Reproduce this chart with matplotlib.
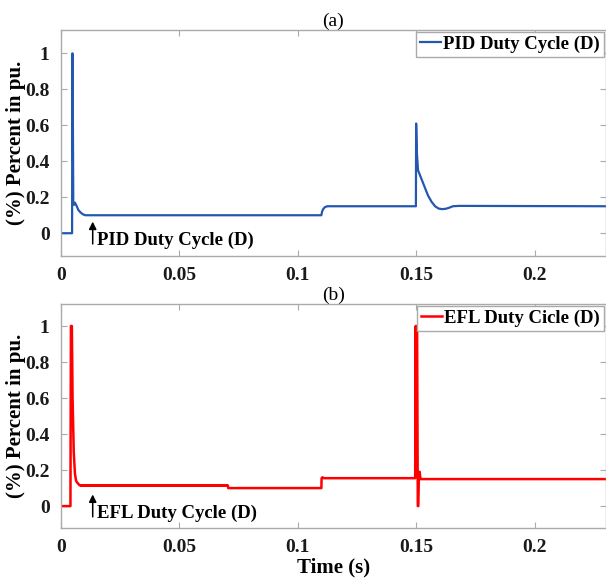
import numpy as np
import matplotlib.pyplot as plt

plt.rcParams['font.family'] = ['Liberation Serif', 'DejaVu Serif']
plt.rcParams['font.weight'] = 'bold'

# PID duty cycle (top panel)
pid_t = [0, 0.0048, 0.0049, 0.0050, 0.0053, 0.0056, 0.0060, 0.0066, 0.0074, 0.0084,
         0.0094, 0.0104, 0.0115, 0.1100, 0.1103, 0.1108, 0.1115, 0.1125, 0.1499, 0.1500,
         0.1503, 0.1508, 0.1520, 0.1535, 0.1550, 0.1565, 0.1580, 0.1595, 0.1610, 0.1625,
         0.1640, 0.1655, 0.1680, 0.23]
pid_d = [0, 0, 1.0, 1.0, 0.17, 0.158, 0.17, 0.155, 0.13, 0.115,
         0.105, 0.1, 0.1, 0.1, 0.12, 0.135, 0.145, 0.15, 0.15, 0.61,
         0.45, 0.35, 0.31, 0.26, 0.21, 0.175, 0.15, 0.137, 0.134, 0.136,
         0.142, 0.15, 0.152, 0.15]

# EFL duty cycle (bottom panel)
efl_t = [0, 0.0041, 0.0043, 0.0047, 0.0050, 0.0055, 0.0060, 0.0065, 0.0070, 0.0080,
         0.0705, 0.0707, 0.1100, 0.1101, 0.1105, 0.1110, 0.1496, 0.1498, 0.1500, 0.1502,
         0.1504, 0.1507, 0.1509, 0.1512, 0.1515, 0.1518, 0.1522, 0.23]
efl_d = [0, 0, 1.0, 1.0, 0.6, 0.3, 0.18, 0.14, 0.13, 0.115,
         0.115, 0.1, 0.1, 0.155, 0.16, 0.155, 0.155, 1.0, 0.2, 1.0,
         1.0, 0.0, 0.0, 0.19, 0.19, 0.15, 0.15, 0.15]
# chattering band of the EFL signal
band_t = [0.0080, 0.0705]
band_lo = [0.105, 0.105]
band_hi = [0.123, 0.123]

xticks = [0, 0.05, 0.1, 0.15, 0.2]
xlabels = ['0', '0.05', '0.1', '0.15', '0.2']
yticks = [0, 0.2, 0.4, 0.6, 0.8, 1]
ylabels = ['0', '0.2', '0.4', '0.6', '0.8', '1']

fig = plt.figure(figsize=(6.06, 5.78), dpi=100)
ax1 = fig.add_axes([0.1002, 0.5576, 0.8993, 0.3905])
ax2 = fig.add_axes([0.1002, 0.0870, 0.8993, 0.3870])

blue = '#2258b0'
red = '#ff0000'

ax1.plot(pid_t, pid_d, color=blue, lw=1.6, label='PID Duty Cycle (D)')
ax2.plot(efl_t, efl_d, color=red, lw=1.8, label='EFL Duty Cicle (D)')
ax2.fill_between(band_t, band_lo, band_hi, color=red, lw=0)

for ax, title, name, ylim in [(ax1, '(a)', 'PID Duty Cycle (D)', (-0.125, 1.13)),
                              (ax2, '(b)', 'EFL Duty Cycle (D)', (-0.12, 1.122))]:
    ax.set_xlim(0, 0.23)
    ax.set_ylim(*ylim)
    ax.set_xticks(xticks)
    ax.set_xticklabels(xlabels)
    ax.set_yticks(yticks)
    ax.set_yticklabels(ylabels)
    ax.tick_params(direction='in', top=True, right=True, labelsize=14,
                   colors='#aaaaaa', labelcolor='#1a1a1a', length=4, pad=8)
    for sp in ax.spines.values():
        sp.set_color('#aaaaaa')
        sp.set_linewidth(1.0)
    for lab in ax.get_xticklabels() + ax.get_yticklabels():
        lab.set_fontweight('bold')
    ax.set_title(title, fontsize=14, fontweight='normal', pad=3)
    ax.set_ylabel('(%) Percent in pu.', fontsize=15, fontweight='bold', labelpad=-1)
    leg = ax.legend(loc='upper right', fontsize=13.5, handlelength=1.1, handletextpad=0.15,
                    borderpad=0.2, borderaxespad=0.1, fancybox=False, framealpha=1,
                    edgecolor='#aaaaaa')
    for txt in leg.get_texts():
        txt.set_fontweight('bold')
    ax.annotate('', xy=(0.0135, 0.08), xytext=(0.0135, -0.075),
                arrowprops=dict(arrowstyle='-|>', color='k', lw=1.1, mutation_scale=11))
    ax.text(0.0155, -0.063, name, fontsize=13.5, fontweight='bold', va='baseline')

ax2.set_xlabel('Time (s)', fontsize=15, fontweight='bold', labelpad=1)

fig.savefig('out.png', dpi=100)
